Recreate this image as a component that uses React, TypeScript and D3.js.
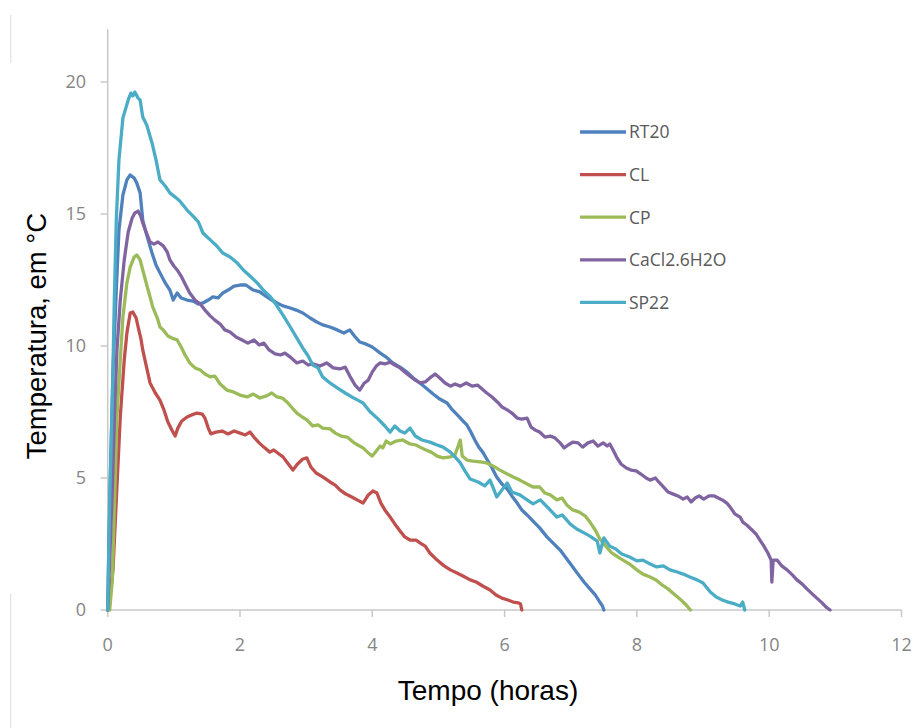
import React from "react";
import * as d3 from "d3";

// [hours, °C]
const RT20: [number, number][] = [
  [0, 0], [0.02, 2.65], [0.05, 6.06], [0.08, 9.09], [0.13, 12.12], [0.17, 14.39], [0.23, 15.72], [0.29, 16.29],
  [0.34, 16.48], [0.4, 16.36], [0.44, 16.17], [0.49, 15.8], [0.53, 14.77], [0.59, 14.2], [0.67, 13.52], [0.73, 13.07],
  [0.79, 12.77], [0.87, 12.39], [0.94, 12.12], [0.99, 11.74], [1.05, 12.01], [1.11, 11.82], [1.2, 11.74], [1.29, 11.7],
  [1.37, 11.59], [1.44, 11.63], [1.52, 11.74], [1.59, 11.86], [1.67, 11.82], [1.74, 12.01], [1.82, 12.12], [1.91, 12.27],
  [2.0, 12.31], [2.09, 12.31], [2.2, 12.12], [2.3, 12.05], [2.39, 11.89], [2.48, 11.74], [2.56, 11.63], [2.65, 11.52],
  [2.76, 11.44], [2.85, 11.36], [2.95, 11.25], [3.06, 11.06], [3.16, 10.91], [3.25, 10.8], [3.36, 10.72], [3.47, 10.61],
  [3.57, 10.49], [3.66, 10.61], [3.73, 10.38], [3.81, 10.15], [3.9, 10.08], [4.0, 9.96], [4.12, 9.73], [4.21, 9.58],
  [4.31, 9.36], [4.42, 9.2], [4.52, 9.02], [4.62, 8.79], [4.72, 8.6], [4.83, 8.37], [4.92, 8.18], [5.02, 7.99],
  [5.13, 7.84], [5.2, 7.61], [5.3, 7.35], [5.37, 7.16], [5.43, 7.01], [5.49, 6.74], [5.55, 6.44], [5.61, 6.17],
  [5.67, 5.98], [5.73, 5.72], [5.81, 5.38], [5.88, 5.04], [5.96, 4.77], [6.04, 4.58], [6.11, 4.32], [6.19, 4.05],
  [6.26, 3.79], [6.34, 3.6], [6.43, 3.37], [6.53, 3.11], [6.64, 2.77], [6.73, 2.54], [6.84, 2.27], [6.93, 1.97],
  [7.02, 1.67], [7.11, 1.36], [7.2, 1.06], [7.29, 0.8], [7.37, 0.57], [7.44, 0.3], [7.48, 0.15], [7.5, 0],
];

const CL: [number, number][] = [
  [0, 0], [0.03, 0.38], [0.08, 1.52], [0.13, 4.17], [0.19, 7.31], [0.25, 9.47], [0.29, 10.49], [0.34, 11.25],
  [0.38, 11.29], [0.43, 11.06], [0.46, 10.72], [0.5, 10.3], [0.53, 9.85], [0.58, 9.28], [0.64, 8.6], [0.72, 8.22],
  [0.79, 7.95], [0.85, 7.58], [0.91, 7.12], [0.97, 6.82], [1.02, 6.59], [1.06, 6.89], [1.12, 7.16], [1.2, 7.31],
  [1.27, 7.39], [1.35, 7.46], [1.43, 7.42], [1.47, 7.27], [1.52, 6.89], [1.56, 6.67], [1.64, 6.74], [1.73, 6.78],
  [1.82, 6.67], [1.91, 6.78], [2.0, 6.7], [2.08, 6.63], [2.15, 6.74], [2.21, 6.55], [2.29, 6.33], [2.36, 6.17],
  [2.45, 5.98], [2.51, 6.06], [2.59, 5.91], [2.65, 5.8], [2.73, 5.53], [2.8, 5.3], [2.87, 5.53], [2.95, 5.72],
  [3.01, 5.76], [3.07, 5.42], [3.15, 5.19], [3.25, 5.04], [3.36, 4.85], [3.44, 4.73], [3.51, 4.55], [3.6, 4.39],
  [3.69, 4.28], [3.77, 4.17], [3.86, 4.05], [3.94, 4.36], [4.01, 4.51], [4.07, 4.43], [4.13, 4.05], [4.19, 3.79],
  [4.27, 3.52], [4.34, 3.26], [4.42, 2.99], [4.49, 2.77], [4.57, 2.65], [4.66, 2.65], [4.72, 2.54], [4.8, 2.42],
  [4.87, 2.16], [4.98, 1.89], [5.07, 1.7], [5.18, 1.52], [5.28, 1.4], [5.37, 1.29], [5.48, 1.14], [5.57, 1.06],
  [5.67, 0.91], [5.78, 0.76], [5.87, 0.57], [5.96, 0.45], [6.05, 0.38], [6.13, 0.3], [6.21, 0.27], [6.24, 0.23],
  [6.26, 0],
];

const CP: [number, number][] = [
  [0, 0], [0.03, 0], [0.07, 1.14], [0.1, 3.79], [0.14, 7.31], [0.19, 9.47], [0.23, 11.1], [0.29, 12.39],
  [0.34, 12.99], [0.4, 13.37], [0.44, 13.45], [0.49, 13.26], [0.53, 12.88], [0.59, 12.31], [0.64, 11.86], [0.68, 11.48],
  [0.75, 11.06], [0.79, 10.72], [0.84, 10.61], [0.91, 10.38], [0.97, 10.3], [1.05, 10.23], [1.11, 9.96], [1.17, 9.66],
  [1.24, 9.36], [1.32, 9.17], [1.4, 9.09], [1.47, 8.94], [1.55, 8.83], [1.62, 8.86], [1.7, 8.56], [1.8, 8.33],
  [1.9, 8.26], [2.0, 8.14], [2.11, 8.07], [2.2, 8.18], [2.3, 8.03], [2.4, 8.11], [2.48, 8.22], [2.56, 8.07],
  [2.64, 8.03], [2.71, 7.88], [2.79, 7.65], [2.86, 7.46], [2.94, 7.31], [3.01, 7.2], [3.1, 6.97], [3.18, 7.01],
  [3.25, 6.89], [3.36, 6.86], [3.44, 6.7], [3.53, 6.59], [3.62, 6.55], [3.71, 6.36], [3.78, 6.25], [3.86, 6.14],
  [3.94, 5.95], [4.0, 5.83], [4.06, 6.02], [4.12, 6.21], [4.16, 6.14], [4.21, 6.4], [4.27, 6.29], [4.36, 6.4],
  [4.46, 6.44], [4.57, 6.29], [4.66, 6.25], [4.72, 6.17], [4.81, 6.06], [4.89, 5.98], [4.98, 5.83], [5.07, 5.76],
  [5.18, 5.8], [5.25, 5.87], [5.33, 6.44], [5.36, 5.83], [5.43, 5.68], [5.52, 5.64], [5.63, 5.61], [5.73, 5.57],
  [5.83, 5.45], [5.93, 5.3], [6.04, 5.15], [6.13, 5.04], [6.23, 4.92], [6.34, 4.77], [6.43, 4.66], [6.53, 4.66],
  [6.61, 4.43], [6.69, 4.36], [6.79, 4.17], [6.87, 4.24], [6.94, 3.98], [7.03, 3.79], [7.13, 3.71], [7.22, 3.56],
  [7.29, 3.33], [7.37, 3.03], [7.44, 2.69], [7.53, 2.42], [7.62, 2.16], [7.71, 2.01], [7.79, 1.89], [7.89, 1.74],
  [8.0, 1.52], [8.09, 1.36], [8.2, 1.25], [8.29, 1.14], [8.38, 0.95], [8.47, 0.8], [8.56, 0.61], [8.65, 0.42],
  [8.73, 0.23], [8.81, 0],
];

const CACL2: [number, number][] = [
  [0, 0], [0.03, 1.89], [0.07, 4.55], [0.1, 7.2], [0.14, 9.85], [0.19, 11.74], [0.25, 13.26], [0.31, 14.32],
  [0.37, 14.85], [0.41, 15.04], [0.46, 15.11], [0.5, 14.92], [0.53, 14.66], [0.58, 14.32], [0.64, 13.94], [0.7, 13.86],
  [0.76, 13.94], [0.84, 13.79], [0.9, 13.56], [0.94, 13.26], [1.0, 13.03], [1.05, 12.88], [1.11, 12.65], [1.17, 12.35],
  [1.24, 12.01], [1.32, 11.74], [1.4, 11.59], [1.47, 11.36], [1.55, 11.14], [1.62, 10.98], [1.7, 10.83], [1.77, 10.61],
  [1.85, 10.53], [1.94, 10.34], [2.03, 10.23], [2.12, 10.11], [2.21, 10.23], [2.29, 10.04], [2.36, 10.11], [2.44, 9.85],
  [2.53, 9.7], [2.61, 9.66], [2.68, 9.73], [2.76, 9.58], [2.86, 9.36], [2.95, 9.43], [3.03, 9.28], [3.1, 9.32],
  [3.21, 9.24], [3.31, 9.36], [3.41, 9.17], [3.51, 9.13], [3.59, 9.2], [3.66, 8.86], [3.74, 8.52], [3.81, 8.33],
  [3.88, 8.6], [3.94, 8.71], [4.0, 9.02], [4.06, 9.24], [4.12, 9.36], [4.19, 9.32], [4.27, 9.39], [4.34, 9.28],
  [4.42, 9.17], [4.49, 9.02], [4.57, 8.86], [4.65, 8.71], [4.72, 8.6], [4.8, 8.64], [4.87, 8.79], [4.95, 8.94],
  [5.02, 8.79], [5.1, 8.6], [5.18, 8.48], [5.25, 8.56], [5.33, 8.48], [5.42, 8.6], [5.51, 8.48], [5.59, 8.52],
  [5.66, 8.37], [5.73, 8.22], [5.81, 8.07], [5.89, 7.88], [5.96, 7.69], [6.04, 7.58], [6.11, 7.46], [6.19, 7.27],
  [6.26, 7.23], [6.34, 7.27], [6.4, 6.93], [6.46, 6.82], [6.53, 6.74], [6.61, 6.55], [6.69, 6.59], [6.76, 6.52],
  [6.84, 6.33], [6.9, 6.14], [6.96, 6.25], [7.03, 6.36], [7.11, 6.33], [7.18, 6.17], [7.26, 6.33], [7.34, 6.4],
  [7.41, 6.21], [7.49, 6.33], [7.55, 6.21], [7.59, 6.29], [7.64, 6.06], [7.7, 5.76], [7.76, 5.53], [7.84, 5.38],
  [7.91, 5.3], [7.99, 5.27], [8.06, 5.15], [8.14, 5.0], [8.2, 4.92], [8.28, 5.0], [8.33, 4.85], [8.4, 4.66],
  [8.47, 4.47], [8.55, 4.39], [8.62, 4.32], [8.7, 4.2], [8.76, 4.28], [8.82, 4.09], [8.88, 4.24], [8.94, 4.32],
  [9.01, 4.2], [9.09, 4.32], [9.17, 4.32], [9.23, 4.24], [9.29, 4.17], [9.36, 4.05], [9.42, 3.86], [9.48, 3.64],
  [9.56, 3.52], [9.6, 3.33], [9.66, 3.22], [9.74, 3.03], [9.8, 2.88], [9.86, 2.65], [9.92, 2.42], [9.98, 2.16],
  [10.03, 1.89], [10.04, 1.06], [10.06, 1.89], [10.12, 1.89], [10.19, 1.67], [10.27, 1.52], [10.35, 1.33], [10.42, 1.14],
  [10.5, 0.98], [10.57, 0.8], [10.65, 0.61], [10.72, 0.45], [10.8, 0.27], [10.86, 0.11], [10.92, 0],
];

const SP22: [number, number][] = [
  [0, 0], [0.03, 4.17], [0.07, 7.95], [0.1, 11.74], [0.13, 14.77], [0.17, 17.05], [0.23, 18.64], [0.31, 19.32],
  [0.35, 19.58], [0.38, 19.47], [0.41, 19.62], [0.46, 19.39], [0.49, 19.32], [0.53, 18.67], [0.59, 18.37], [0.67, 17.69],
  [0.73, 17.05], [0.79, 16.29], [0.87, 16.06], [0.94, 15.8], [1.02, 15.64], [1.09, 15.49], [1.2, 15.15], [1.29, 14.92],
  [1.37, 14.7], [1.44, 14.28], [1.55, 14.02], [1.65, 13.79], [1.74, 13.52], [1.85, 13.37], [1.96, 13.14], [2.05, 12.88],
  [2.15, 12.65], [2.26, 12.39], [2.35, 12.12], [2.45, 11.89], [2.54, 11.59], [2.65, 11.17], [2.76, 10.72], [2.86, 10.3],
  [2.95, 9.92], [3.03, 9.62], [3.1, 9.28], [3.18, 9.17], [3.25, 8.83], [3.36, 8.6], [3.47, 8.41], [3.59, 8.22],
  [3.69, 8.07], [3.78, 7.95], [3.86, 7.84], [3.97, 7.5], [4.09, 7.23], [4.19, 6.97], [4.27, 6.74], [4.34, 6.97],
  [4.42, 6.78], [4.49, 6.7], [4.57, 6.89], [4.65, 6.59], [4.75, 6.44], [4.87, 6.36], [4.98, 6.25], [5.07, 6.17],
  [5.18, 5.98], [5.25, 5.8], [5.33, 5.57], [5.4, 5.27], [5.48, 4.96], [5.6, 4.85], [5.7, 4.7], [5.78, 4.92],
  [5.84, 4.55], [5.88, 4.28], [5.96, 4.55], [6.04, 4.81], [6.11, 4.47], [6.23, 4.36], [6.34, 4.17], [6.43, 4.02],
  [6.54, 4.17], [6.63, 3.94], [6.72, 3.71], [6.79, 3.52], [6.87, 3.6], [6.99, 3.26], [7.09, 3.07], [7.18, 2.95],
  [7.29, 2.8], [7.4, 2.61], [7.44, 2.16], [7.5, 2.73], [7.59, 2.42], [7.68, 2.31], [7.77, 2.12], [7.89, 2.01],
  [8.0, 1.86], [8.09, 1.89], [8.2, 1.74], [8.3, 1.63], [8.4, 1.67], [8.5, 1.52], [8.61, 1.44], [8.7, 1.36],
  [8.8, 1.25], [8.91, 1.14], [9.0, 1.02], [9.11, 0.68], [9.2, 0.49], [9.29, 0.38], [9.38, 0.3], [9.48, 0.23],
  [9.56, 0.15], [9.6, 0.3], [9.63, 0],
];

const SERIES_NAMES = ["RT20", "CL", "CP", "CaCl2.6H2O", "SP22"];
const SERIES_DATA = [RT20, CL, CP, CACL2, SP22];
const COLORS = ["#4F81BD", "#C0504D", "#9BBB59", "#8064A2", "#4BACC6"];
const X_TICKS = [0, 2, 4, 6, 8, 10, 12];
const Y_TICKS = [0, 5, 10, 15, 20];
const X_TITLE = "Tempo (horas)";
const Y_TITLE = "Temperatura, em °C";

export default function App() {
  const W = 914;
  const H = 728;
  const x = d3.scaleLinear().domain([0, 12]).range([107.7, 901.5]);
  const y = d3.scaleLinear().domain([0, 22]).range([610, 29.2]);
  const line = d3
    .line<[number, number]>()
    .x((d) => x(d[0]))
    .y((d) => y(d[1]));
  const axisColor = "#c8c8c8";
  const tickFont = "'Open Sans', sans-serif";
  return (
    <svg
      width={W}
      height={H}
      style={{ position: "absolute", left: 0, top: 0, background: "#fff" }}
    >
      {/* faint scan artifacts at left edge */}
      <line x1={10.7} x2={10.7} y1={15} y2={63} stroke="#e2e2e2" strokeWidth={1.2} />
      <line x1={10.7} x2={10.7} y1={594} y2={728} stroke="#e2e2e2" strokeWidth={1.2} />

      {/* y axis */}
      <line x1={x(0)} x2={x(0)} y1={y(22)} y2={y(0)} stroke={axisColor} strokeWidth={1.5} />
      {Y_TICKS.map((t) => (
        <g key={"y" + t}>
          <line x1={x(0) - 7} x2={x(0)} y1={y(t)} y2={y(t)} stroke={axisColor} strokeWidth={1.5} />
          <text
            x={86}
            y={y(t)}
            dy="0.35em"
            textAnchor="end"
            fontFamily={tickFont}
            fontSize={18}
            fill="#858585"
          >
            {t}
          </text>
        </g>
      ))}

      {/* x axis */}
      <line x1={x(0)} x2={x(12)} y1={y(0)} y2={y(0)} stroke={axisColor} strokeWidth={1.5} />
      {X_TICKS.map((t) => (
        <g key={"x" + t}>
          <line x1={x(t)} x2={x(t)} y1={y(0)} y2={y(0) + 7} stroke={axisColor} strokeWidth={1.5} />
          <text
            x={x(t)}
            y={645}
            dy="0.35em"
            textAnchor="middle"
            fontFamily={tickFont}
            fontSize={18}
            fill="#858585"
          >
            {t}
          </text>
        </g>
      ))}

      {/* series */}
      {SERIES_DATA.map((data, i) => (
        <path
          key={SERIES_NAMES[i]}
          d={line(data) || ""}
          fill="none"
          stroke={COLORS[i]}
          strokeWidth={3.3}
          strokeLinejoin="round"
          strokeLinecap="round"
        />
      ))}

      {/* legend */}
      {SERIES_NAMES.map((name, i) => {
        const ly = 132 + i * 42.6;
        return (
          <g key={"lg" + name}>
            <line x1={580} x2={626} y1={ly} y2={ly} stroke={COLORS[i]} strokeWidth={3.3} />
            <text
              x={629}
              y={ly}
              dy="0.36em"
              fontFamily={tickFont}
              fontSize={17.5}
              fill="#595959"
            >
              {name}
            </text>
          </g>
        );
      })}

      {/* axis titles */}
      <text
        x={488}
        y={700}
        textAnchor="middle"
        fontFamily="'Liberation Sans', Arial, sans-serif"
        fontSize={28}
        fill="#000"
      >
        {X_TITLE}
      </text>
      <text
        transform={`translate(46, 336) rotate(-90)`}
        textAnchor="middle"
        fontFamily="'Liberation Sans', Arial, sans-serif"
        fontSize={27.5}
        fill="#000"
      >
        {Y_TITLE}
      </text>
    </svg>
  );
}
